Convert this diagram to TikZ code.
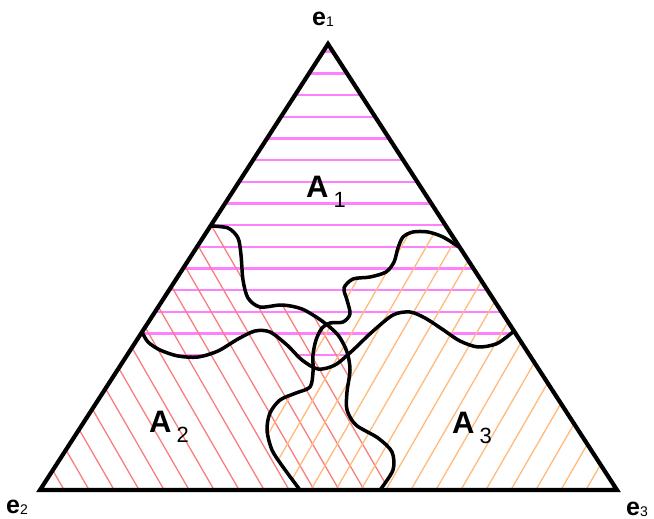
\documentclass[tikz,border=0pt]{standalone}
\usepackage{xcolor}
\usepackage{fontspec}
\setmainfont{Liberation Sans}
\usepackage{tikz}
\usetikzlibrary{positioning}
\definecolor{hatchPink}{HTML}{FF80FF}
\definecolor{hatchRed}{HTML}{FA7E7E}
\definecolor{hatchOrange}{HTML}{FFBA7C}
\newcommand{\regionlabel}[2]{{\fontsize{31}{31}\selectfont\bfseries #1}\kern5pt\raisebox{-10pt}{\fontsize{22}{22}\selectfont #2}}
\newcommand{\vertexlabel}[2]{{\fontsize{25}{25}\selectfont\bfseries #1}\raisebox{-1pt}{\fontsize{14}{14}\selectfont #2}}
\newcommand{\borderOne}{-- plot[smooth] coordinates {(210,226) (228,228) (238,238) (241,255) (243,280) (248,298) (260,307) (282,305) (302,309) (322,321) (338,335) (347,352) (350,370) (347,392) (347,410) (356,425) (378,438) (392,452) (393,470) (380,490)}}
\newcommand{\borderTwo}{-- plot[smooth] coordinates {(142,332) (148,342) (160,350) (178,356) (198,357) (218,351) (238,339) (255,331) (270,332) (287,345) (302,360) (318,369) (335,365) (352,351) (372,332) (393,315) (410,312) (425,318) (442,329) (460,341) (478,347) (496,344) (508,336) (514,331)}}
\newcommand{\borderThree}{-- plot[smooth] coordinates {(459,247) (443,237) (428,232) (413,232) (403,237) (398,248) (394,262) (386,272) (370,277) (353,279) (344,288) (347,300) (350,314) (343,322) (330,323) (322,328) (316,340) (313,355) (313,372) (310,387) (296,393) (280,400) (270,413) (267,430) (272,450) (283,467) (300,490)}}

\begin{document}
\begin{tikzpicture}[x=1pt, y=-1pt, every node/.style={inner sep=0pt}]
  \tikzset{edge/.style={line width=4.2pt, line join=miter}, border/.style={line width=3.5pt, line join=round, line cap=round}, hatchA/.style={draw=hatchPink, line width=2.4pt}, hatchB/.style={draw=hatchRed, line width=1.3pt}, hatchC/.style={draw=hatchOrange, line width=1.3pt}}
  \useasboundingbox (0,0) rectangle (654,519);
  \coordinate (v1) at (328,44);
  \coordinate (v2) at (40,490);
  \coordinate (v3) at (617,490);
  \begin{scope}
    \clip (v1) -- (v2) -- (v3) -- cycle;
    \begin{scope}
      \clip (0,332) \borderTwo -- (654,331) -- (654,0) -- (0,0) -- cycle;
      \foreach \k in {0,...,14} \draw[hatchA] (0,51.7+21.67*\k) -- (654,51.7+21.67*\k);
    \end{scope}
    \begin{scope}
      \clip (0,226) \borderOne -- (380,519) -- (0,519) -- cycle;
      \foreach \x in {-83,-58,...,717} \draw[hatchB] (\x,495) -- ++(-300,-519.6);
    \end{scope}
    \begin{scope}
      \clip (654,247) \borderThree -- (300,519) -- (654,519) -- cycle;
      \foreach \x in {-92,-67,...,658} \draw[hatchC] (\x,495) -- ++(300,-519.6);
    \end{scope}
  \end{scope}
  \draw[border] (210,226) \borderOne;
  \draw[border] (142,332) \borderTwo;
  \draw[border] (459,247) \borderThree;
  \draw[edge] (v1) -- (v2) -- (v3) -- cycle;
  \node[anchor=base west] (e1) at (312,26) {\vertexlabel{e}{1}};
  \node[anchor=base west] (e2) at (6,513) {\vertexlabel{e}{2}};
  \node[anchor=base west] (e3) at (626,515) {\vertexlabel{e}{3}};
  \node[anchor=base west] (a1) at (306,197) {\regionlabel{A}{1}};
  \node[anchor=base west] (a2) at (149,432) {\regionlabel{A}{2}};
  \node[anchor=base west] (a3) at (452,433) {\regionlabel{A}{3}};
\end{tikzpicture}
\end{document}
